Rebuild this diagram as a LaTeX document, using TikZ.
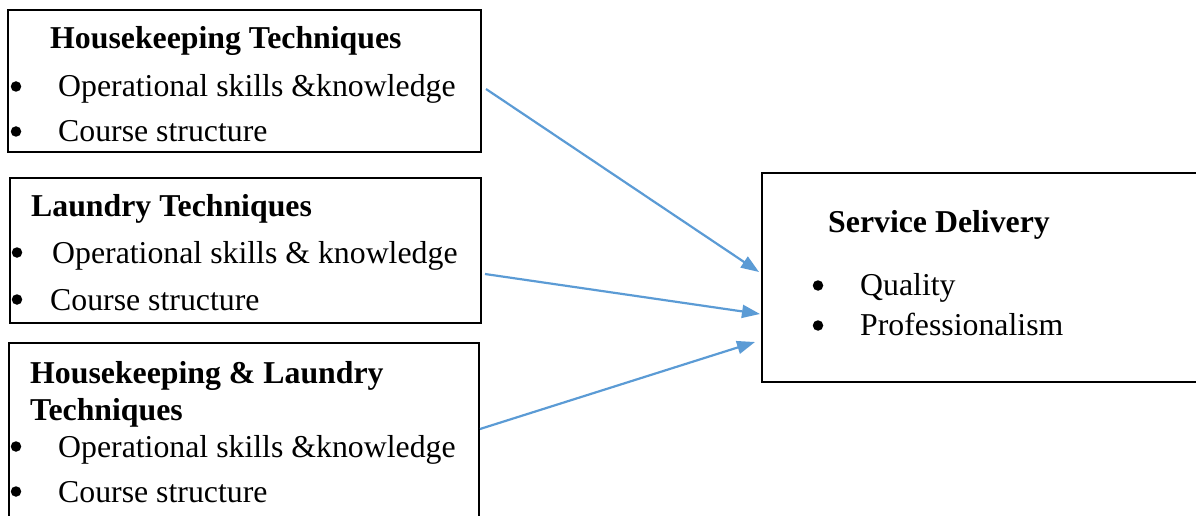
\documentclass[tikz,border=0pt]{standalone}
\usepackage{fontspec}
\setmainfont{Liberation Serif}
\usetikzlibrary{arrows.meta}
\definecolor{arrowblue}{HTML}{5B9BD5}
\tikzset{
  boxframe/.style={draw=black, line width=1.6pt, fill=none},
  txt/.style={inner sep=0pt, anchor=base west, font=\fontsize{31.8}{38}\selectfont},
  ttl/.style={txt, font=\fontsize{31.8}{38}\selectfont\bfseries},
  bul/.style={circle, fill=black, inner sep=0pt, minimum size=10.5pt},
  link/.style={draw=arrowblue, line width=2.2pt, -{Triangle[length=18pt,width=13pt]}}
}
\begin{document}
\begin{tikzpicture}[x=1pt,y=-1pt]
\useasboundingbox (0,0) rectangle (1196,516);
\clip (0,0) rectangle (1196,516);
% boxes
\draw[boxframe] (8,10) rectangle (481,152);
\draw[boxframe] (10,178) rectangle (481,323);
\draw[boxframe] (9,343) rectangle (479,540);
\draw[boxframe] (762,173) rectangle (1215,382);
% box 1
\node[ttl] (h1) at (50,49) {Housekeeping Techniques};
\node[bul] (b11) at (16,86.5) {};
\node[txt] (o1) at (58,97) {Operational skills \&knowledge};
\node[bul] (b12) at (16,131.5) {};
\node[txt] (c1) at (58,142) {Course structure};
% box 2
\node[ttl] (h2) at (31,216) {Laundry Techniques};
\node[bul] (b21) at (17,252.5) {};
\node[txt] (o2) at (52,263) {Operational skills \& knowledge};
\node[bul] (b22) at (17,299.5) {};
\node[txt] (c2) at (50,310) {Course structure};
% box 3
\node[ttl] (h3a) at (30,383) {Housekeeping \& Laundry};
\node[ttl] (h3b) at (30,420) {Techniques};
\node[bul] (b31) at (16,446.5) {};
\node[txt] (o3) at (58,457) {Operational skills \&knowledge};
\node[bul] (b32) at (16,491.5) {};
\node[txt] (c3) at (58,502) {Course structure};
% box 4
\node[ttl] (h4) at (828,232) {Service Delivery};
\node[bul] (b41) at (818,285.5) {};
\node[txt] (q4) at (860,295) {Quality};
\node[bul] (b42) at (818,325.5) {};
\node[txt] (p4) at (860,335) {Professionalism};
% arrows
\coordinate (s1) at (486,89);
\coordinate (t1) at (759,272);
\coordinate (s2) at (485,274);
\coordinate (t2) at (760,314);
\coordinate (s3) at (480,429);
\coordinate (t3) at (755,342);
\draw[link] (s1) -- (t1);
\draw[link] (s2) -- (t2);
\draw[link] (s3) -- (t3);
\end{tikzpicture}
\end{document}
